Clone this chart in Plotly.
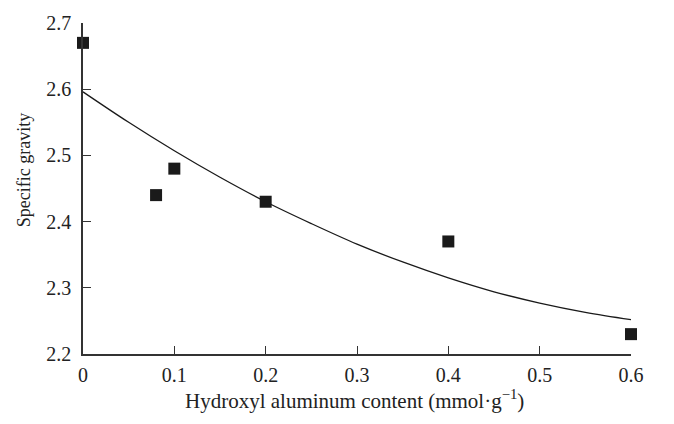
import plotly.graph_objects as go

# Measured data points
x_data = [0.0, 0.08, 0.1, 0.2, 0.4, 0.6]
y_data = [2.67, 2.44, 2.48, 2.43, 2.37, 2.23]

# Fitted curve, values
x_fit = [0.0, 0.05, 0.1, 0.15, 0.2, 0.25, 0.3, 0.35, 0.4, 0.45, 0.5, 0.55, 0.6]
y_fit = [2.596, 2.550, 2.507, 2.467, 2.430, 2.397, 2.366, 2.339, 2.315, 2.294, 2.277, 2.263, 2.252]

x_ticks = [0, 0.1, 0.2, 0.3, 0.4, 0.5, 0.6]
x_tick_labels = ["0", "0.1", "0.2", "0.3", "0.4", "0.5", "0.6"]
y_ticks = [2.2, 2.3, 2.4, 2.5, 2.6, 2.7]
y_tick_labels = ["2.2", "2.3", "2.4", "2.5", "2.6", "2.7"]

FONT = "Liberation Serif"
INK = "#1a1a1a"

fig = go.Figure()
fig.add_trace(go.Scatter(
    x=x_fit, y=y_fit, mode="lines", line=dict(color=INK, width=1.3, shape="spline"),
    showlegend=False, hoverinfo="skip", cliponaxis=False))
fig.add_trace(go.Scatter(
    x=x_data, y=y_data, mode="markers",
    marker=dict(symbol="square", size=12, color=INK),
    showlegend=False, cliponaxis=False))

axis_common = dict(
    showline=True, linecolor="#333333", linewidth=1.5,
    ticks="inside", ticklen=8, tickwidth=1.3, tickcolor="#333333",
    showgrid=False, zeroline=False,
    tickfont=dict(family=FONT, size=20, color="#222222"),
)

fig.update_layout(
    width=674, height=424,
    margin=dict(l=82.5, r=43, t=14, b=70),
    paper_bgcolor="white", plot_bgcolor="white",
    font=dict(family=FONT, color="#222222"),
    xaxis=dict(range=[0, 0.6], tickvals=x_ticks, ticktext=x_tick_labels,
               ticklabelstandoff=2, **axis_common),
    yaxis=dict(range=[2.2, 2.7], tickvals=y_ticks, ticktext=y_tick_labels,
               ticklabelstandoff=6, **axis_common),
    annotations=[
        dict(text="Hydroxyl aluminum content (mmol·g<sup>−1</sup>)", xref="paper", yref="paper",
             x=(354 - 82.5) / 548.5, y=-(401 - 354.3) / 340, xanchor="center", yanchor="middle",
             showarrow=False, font=dict(family=FONT, size=21, color="#222222")),
        dict(text="Specific gravity", xref="paper", yref="paper", textangle=-90,
             x=-(82.5 - 23) / 548.5, y=(354.3 - 166) / 340, xanchor="center", yanchor="middle",
             showarrow=False, font=dict(family=FONT, size=18, color="#222222")),
    ],
)

fig.write_html("out.html")
